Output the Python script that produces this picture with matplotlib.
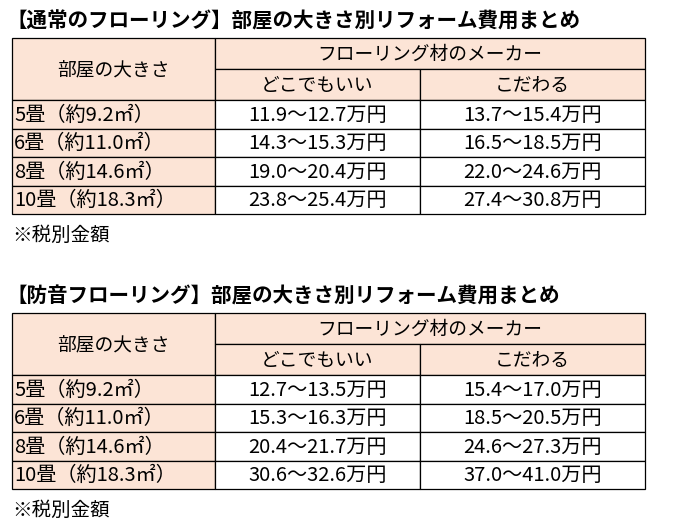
import matplotlib.pyplot as plt
from matplotlib.patches import Rectangle

plt.rcParams['font.family'] = ['Noto Sans CJK JP', 'DejaVu Sans']

titles = ["【通常のフローリング】部屋の大きさ別リフォーム費用まとめ",
          "【防音フローリング】部屋の大きさ別リフォーム費用まとめ"]
rooms = ["5畳（約9.2㎡）", "6畳（約11.0㎡）", "8畳（約14.6㎡）", "10畳（約18.3㎡）"]
any_maker = [["11.9～12.7万円", "14.3～15.3万円", "19.0～20.4万円", "23.8～25.4万円"],
             ["12.7～13.5万円", "15.3～16.3万円", "20.4～21.7万円", "30.6～32.6万円"]]
picky = [["13.7～15.4万円", "16.5～18.5万円", "22.0～24.6万円", "27.4～30.8万円"],
         ["15.4～17.0万円", "18.5～20.5万円", "24.6～27.3万円", "37.0～41.0万円"]]

peach = "#FCE4D6"
fig = plt.figure(figsize=(6.75, 5.25), dpi=100)
ax = fig.add_axes([0, 0, 1, 1])
ax.set_xlim(0, 675)
ax.set_ylim(525, 0)
ax.axis('off')

xs = [12, 215, 420, 645]


def cell(x0, y0, x1, y1, text, color, ha='center', fs=14.5):
    ax.add_patch(Rectangle((x0, y0), x1 - x0, y1 - y0, facecolor=color,
                           edgecolor='black', lw=0.9))
    tx = (x0 + x1) / 2 if ha == 'center' else x0 + 2
    ax.text(tx, (y0 + y1) / 2 + 1, text, ha=ha, va='center', fontsize=fs)


for t, top in enumerate([38, 313]):
    ax.text(6, top - 17, titles[t], fontsize=14.8, fontweight='bold', va='center')
    h1 = top + 31
    h2 = top + 62
    cell(xs[0], top, xs[1], h2, "部屋の大きさ", peach, fs=13.5)
    cell(xs[1], top, xs[3], h1, "フローリング材のメーカー", peach, fs=13.5)
    cell(xs[1], h1, xs[2], h2, "どこでもいい", peach, fs=13.5)
    cell(xs[2], h1, xs[3], h2, "こだわる", peach, fs=13.5)
    y = h2
    for i, r in enumerate(rooms):
        rh = 28.5
        cell(xs[0], y, xs[1], y + rh, r, peach, ha='left')
        cell(xs[1], y, xs[2], y + rh, any_maker[t][i], 'white')
        cell(xs[2], y, xs[3], y + rh, picky[t][i], 'white')
        y += rh
    ax.text(12, y + 21, "※税別金額", fontsize=14, va='center')

fig.savefig("out.png", dpi=100)
